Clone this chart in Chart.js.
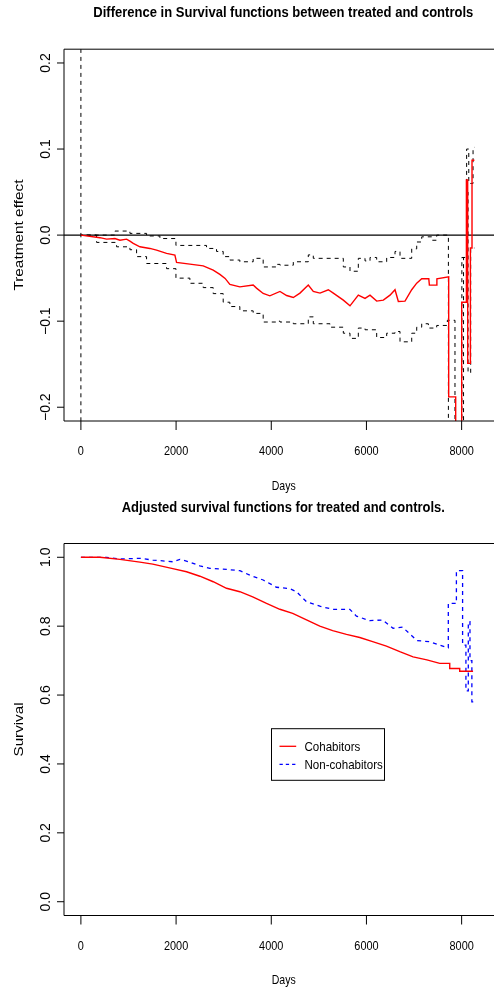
<!DOCTYPE html>
<html><head><meta charset="utf-8">
<script src="https://cdn.jsdelivr.net/npm/chart.js@4/dist/chart.umd.min.js"></script>
<style>
html,body{margin:0;padding:0;background:#fff;overflow:hidden;width:494px;height:991px}
.wrap{position:absolute;left:0;width:494px}
#w1{top:0;height:495px}
#w2{top:495px;height:496px}
canvas{display:block}
</style></head><body>
<div class="wrap" id="w1"><canvas id="c1" width="494" height="495"></canvas></div>
<div class="wrap" id="w2"><canvas id="c2" width="494" height="496"></canvas></div>
<script>
// ---------- top panel: difference in survival ----------
const diffDays = [0, 400, 540, 715, 820, 960, 1030, 1100, 1240, 1450, 1590, 1800, 1975, 2010, 2290, 2570, 2780, 2920, 3030, 3130, 3340, 3620, 3690, 3830, 3970, 4183, 4323, 4463, 4603, 4778, 4883, 5024, 5199, 5304, 5514, 5654, 5829, 5970, 6075, 6215, 6355, 6495, 6600, 6670, 6810, 6951, 7056, 7161, 7310, 7322, 7470, 7480, 7728, 7728, 7875, 7875, 8001, 8001, 8100, 8100, 8127, 8127, 8184, 8184, 8218, 8218, 8268];
const diffEstimate = [0, -0.003, -0.0047, -0.004, -0.006, -0.0047, -0.007, -0.0097, -0.0136, -0.0155, -0.0174, -0.0213, -0.0233, -0.0317, -0.0337, -0.0357, -0.0407, -0.0457, -0.0503, -0.0573, -0.0601, -0.0581, -0.0616, -0.0678, -0.0706, -0.0655, -0.0702, -0.0725, -0.0674, -0.0581, -0.0655, -0.0674, -0.0635, -0.0674, -0.0756, -0.0822, -0.0698, -0.0736, -0.0698, -0.0767, -0.0756, -0.0698, -0.0635, -0.0772, -0.0767, -0.0635, -0.0558, -0.0508, -0.0508, -0.0581, -0.0581, -0.0508, -0.0484, -0.188, -0.188, -0.3, -0.3, -0.078, -0.078, 0.064, 0.064, -0.149, -0.149, -0.015, -0.015, 0.087, 0.087];

const upperDays = [0, 0, 330, 715, 1030, 1380, 1660, 1997, 2640, 2850, 2990, 3130, 3340, 3620, 3830, 4110, 4183, 4463, 4778, 4883, 5234, 5514, 5654, 5829, 5970, 6075, 6215, 6425, 6600, 6705, 6951, 7056, 7161, 7371, 7476, 7722, 8005, 8105, 8150, 8240, 8268];
const upperBand = [0.3, 0, 0, 0.0047, 0.002, -0.001, -0.004, -0.012, -0.0155, -0.019, -0.025, -0.029, -0.031, -0.027, -0.037, -0.034, -0.035, -0.031, -0.023, -0.027, -0.027, -0.037, -0.042, -0.027, -0.030, -0.026, -0.031, -0.026, -0.019, -0.027, -0.016, -0.008, -0.002, -0.006, 0.0, -0.3, -0.026, 0.1, 0.06, 0.102, 0.102];

const lowerDays = [0, 0, 330, 750, 1030, 1170, 1380, 1800, 1997, 2290, 2570, 2780, 2990, 3130, 3340, 3620, 3830, 4110, 4183, 4463, 4778, 4883, 5234, 5514, 5654, 5829, 5970, 6215, 6425, 6600, 6705, 6951, 7056, 7161, 7301, 7476, 7700, 7860, 8040, 8105, 8135, 8190, 8268];
const lowerBand = [-0.3, 0, -0.0085, -0.0136, -0.017, -0.025, -0.033, -0.039, -0.050, -0.056, -0.061, -0.068, -0.078, -0.083, -0.088, -0.091, -0.101, -0.100, -0.101, -0.103, -0.095, -0.103, -0.107, -0.114, -0.120, -0.108, -0.110, -0.119, -0.114, -0.112, -0.124, -0.114, -0.107, -0.103, -0.108, -0.105, -0.099, -0.3, -0.026, 0.05, -0.16, -0.015, -0.015];

const diffTicks = [-0.2, -0.1, 0.0, 0.1, 0.2];
const diffTickLabels = ['\u22120.2', '\u22120.1', '0.0', '0.1', '0.2'];

// ---------- bottom panel: adjusted survival ----------
const seriesNames = ['Cohabitors', 'Non-cohabitors'];
const cohabDays = [0, 400, 820, 1240, 1510, 1930, 2220, 2500, 2780, 3060, 3340, 3610, 3900, 4180, 4450, 4740, 5020, 5290, 5580, 5860, 6130, 6420, 6700, 6980, 7270, 7540, 7750, 7750, 7960, 7960, 8240];
const cohabSurv = [1.0, 1.0, 0.994, 0.986, 0.980, 0.967, 0.958, 0.945, 0.929, 0.910, 0.900, 0.885, 0.866, 0.849, 0.837, 0.818, 0.800, 0.787, 0.776, 0.767, 0.755, 0.742, 0.726, 0.711, 0.702, 0.692, 0.692, 0.677, 0.677, 0.669, 0.669];
const nonCohabDays = [0, 540, 820, 1240, 1510, 1930, 2080, 2290, 2500, 2710, 3060, 3340, 3550, 3830, 4110, 4390, 4530, 4740, 5020, 5290, 5650, 5790, 6070, 6340, 6560, 6760, 7060, 7330, 7540, 7710, 7720, 7720, 7890, 7890, 8020, 8020, 8090, 8090, 8140, 8140, 8175, 8175, 8215, 8215, 8270];
const nonCohabSurv = [1.0, 1.0, 0.995, 0.997, 0.992, 0.987, 0.994, 0.986, 0.975, 0.968, 0.965, 0.961, 0.948, 0.934, 0.913, 0.909, 0.900, 0.871, 0.858, 0.849, 0.849, 0.829, 0.816, 0.818, 0.794, 0.797, 0.758, 0.755, 0.745, 0.737, 0.737, 0.866, 0.866, 0.961, 0.961, 0.745, 0.745, 0.612, 0.612, 0.813, 0.813, 0.70, 0.70, 0.58, 0.58];

const survTicks = [0.0, 0.2, 0.4, 0.6, 0.8, 1.0];
const survTickLabels = ['0.0', '0.2', '0.4', '0.6', '0.8', '1.0'];

const dayTicks = [0, 2000, 4000, 6000, 8000];
const dayTickLabels = ['0', '2000', '4000', '6000', '8000'];

// ---------- helpers ----------
const FONT = '"Liberation Sans", Arial, Helvetica, sans-serif';
function zip(xs, ys) { return xs.map((x, i) => ({ x: x, y: ys[i] })); }
function widthOf(ctx, text, F, bold) {
  ctx.save(); ctx.font = (bold ? 'bold ' : '') + F + 'px ' + FONT;
  const w = ctx.measureText(text).width; ctx.restore(); return w;
}
function drawText(ctx, text, x, y, F, k, rot, bold, align) {
  ctx.save();
  ctx.font = (bold ? 'bold ' : '') + F + 'px ' + FONT;
  ctx.fillStyle = '#000';
  ctx.translate(x, y);
  ctx.rotate(rot || 0);
  ctx.scale(k, 1);
  ctx.textAlign = align || 'center';
  ctx.textBaseline = 'alphabetic';
  ctx.fillText(text, 0, 0);
  ctx.restore();
}
function fitText(ctx, text, x, y, L, h, rot, bold, align) {
  const F = h / 0.716;
  const k = L / widthOf(ctx, text, F, bold);
  drawText(ctx, text, x, y, F, k, rot, bold, align);
}

const rPlot = {
  id: 'rPlot',
  beforeDatasetsDraw(chart, args, o) {
    if (o.zeroLine === undefined) return;
    const ctx = chart.ctx, a = chart.chartArea, y = chart.scales.y.getPixelForValue(o.zeroLine);
    ctx.save(); ctx.strokeStyle = '#000'; ctx.lineWidth = 1.3;
    ctx.beginPath(); ctx.moveTo(a.left, y); ctx.lineTo(a.right, y); ctx.stroke(); ctx.restore();
  },
  afterDraw(chart, args, o) {
    const ctx = chart.ctx, a = chart.chartArea, xs = chart.scales.x, ys = chart.scales.y;
    ctx.save();
    ctx.strokeStyle = '#000'; ctx.lineWidth = 1;
    ctx.beginPath();
    ctx.moveTo(a.right + 5, a.top); ctx.lineTo(a.left, a.top); ctx.lineTo(a.left, a.bottom); ctx.lineTo(a.right + 5, a.bottom);
    ctx.stroke();
    const kx = 24.3 / widthOf(ctx, '2000', 8.7 / 0.716, false);
    o.xTicks.forEach((v, i) => {
      const px = xs.getPixelForValue(v);
      ctx.beginPath(); ctx.moveTo(px, a.bottom); ctx.lineTo(px, a.bottom + 9); ctx.stroke();
      drawText(ctx, o.xLabels[i], px, a.bottom + 34, 8.7 / 0.716, kx, 0, false, 'center');
    });
    o.yTicks.forEach((v, i) => {
      const py = ys.getPixelForValue(v);
      ctx.beginPath(); ctx.moveTo(a.left, py); ctx.lineTo(a.left - 7, py); ctx.stroke();
      drawText(ctx, o.yLabels[i], 50, py, 14, 1.0, -Math.PI / 2, false, 'center');
    });
    fitText(ctx, o.xTitle, 283.7, a.bottom + o.xTitleOff, 24, 9.3, 0, false, 'center');
    fitText(ctx, o.yTitle, 22.7, (a.top + a.bottom) / 2, o.yTitleLen, 9.3, -Math.PI / 2, false, 'center');
    fitText(ctx, o.title, 283.3, 17.3, o.titleLen, 11, 0, true, 'center');
    if (o.legend) {
      const L = o.legend;
      ctx.strokeStyle = '#000'; ctx.lineWidth = 1;
      ctx.strokeRect(L.x, L.y, L.w, L.h);
      const F = 9.3 / 0.716;
      const kl = 78.3 / widthOf(ctx, L.names[1], F, false);
      L.names.forEach((n, i) => {
        const yy = L.y + 17.6 + i * 18;
        ctx.save();
        ctx.strokeStyle = L.colors[i]; ctx.lineWidth = 1.3; ctx.setLineDash(L.dashes[i]);
        ctx.beginPath(); ctx.moveTo(L.x + 8, yy); ctx.lineTo(L.x + 24.7, yy); ctx.stroke();
        ctx.restore();
        drawText(ctx, n, L.x + 33, yy + 5, F, kl, 0, false, 'left');
      });
    }
    ctx.restore();
  }
};

const common = (yMin, yMax, padTop, padBottom) => ({
  responsive: false, animation: false, events: [],
  layout: { padding: { left: 64, top: padTop, right: 0, bottom: padBottom } },
  scales: {
    x: { type: 'linear', min: -355, max: 8680, display: false },
    y: { type: 'linear', min: yMin, max: yMax, display: false }
  },
  elements: { point: { radius: 0 }, line: { tension: 0, fill: false } }
});

const opt1 = common(-0.216, 0.216, 49.2, 74);
opt1.plugins = {
  legend: { display: false }, tooltip: { enabled: false },
  rPlot: {
    zeroLine: 0,
    xTicks: dayTicks, xLabels: dayTickLabels, yTicks: diffTicks, yLabels: diffTickLabels,
    xTitle: 'Days', xTitleOff: 69, yTitle: 'Treatment effect', yTitleLen: 111,
    title: 'Difference in Survival functions between treated and controls', titleLen: 380
  }
};
new Chart(document.getElementById('c1'), {
  type: 'line',
  data: { datasets: [
    { data: zip(diffDays, diffEstimate), borderColor: '#ff0000', borderWidth: 1.4 },
    { data: zip(upperDays, upperBand), borderColor: '#000000', borderWidth: 1, borderDash: [4, 4], stepped: true },
    { data: zip(lowerDays, lowerBand), borderColor: '#000000', borderWidth: 1, borderDash: [4, 4], stepped: true }
  ] },
  options: opt1,
  plugins: [rPlot]
});

const opt2 = common(-0.04, 1.04, 48.5, 75.5);
opt2.plugins = {
  legend: { display: false }, tooltip: { enabled: false },
  rPlot: {
    xTicks: dayTicks, xLabels: dayTickLabels, yTicks: survTicks, yLabels: survTickLabels,
    xTitle: 'Days', xTitleOff: 68, yTitle: 'Survival', yTitleLen: 54,
    title: 'Adjusted survival functions for treated and controls.', titleLen: 323.3,
    legend: { x: 271.5, y: 233.7, w: 113, h: 51.6, names: seriesNames, colors: ['#ff0000', '#0000ff'], dashes: [[], [3.3, 3]] }
  }
};
new Chart(document.getElementById('c2'), {
  type: 'line',
  data: { datasets: [
    { label: seriesNames[0], data: zip(cohabDays, cohabSurv), borderColor: '#ff0000', borderWidth: 1.4 },
    { label: seriesNames[1], data: zip(nonCohabDays, nonCohabSurv), borderColor: '#0000ff', borderWidth: 1.3, borderDash: [4, 4] }
  ] },
  options: opt2,
  plugins: [rPlot]
});
</script>
</body></html>
